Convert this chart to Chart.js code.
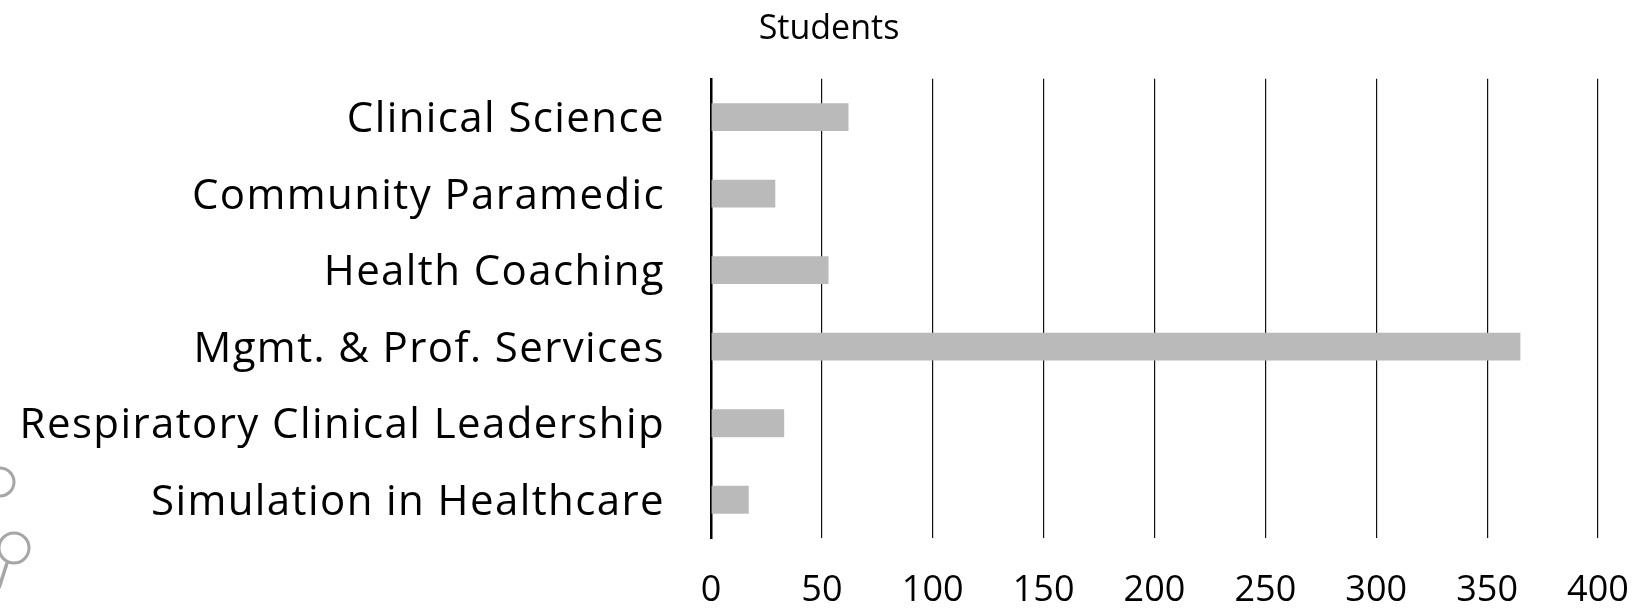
<!DOCTYPE html>
<html>
<head>
<meta charset="utf-8">
<script src="https://cdn.jsdelivr.net/npm/chart.js@4"></script>
<style>
html,body{margin:0;padding:0;background:#fff;}
#wrap{width:1639px;height:608px;position:relative;}
</style>
</head>
<body>
<div id="wrap"><canvas id="c" width="1639" height="608"></canvas></div>
<script>
const categories = ["Clinical Science","Community Paramedic","Health Coaching","Mgmt. & Prof. Services","Respiratory Clinical Leadership","Simulation in Healthcare"];
const students = [62, 29, 53, 365, 33, 17];
const tickValues = [0,50,100,150,200,250,300,350,400];
const seriesName = "Students";

const FONT = "'Open Sans', 'Noto Sans', sans-serif";

const decor = {
  id:'decor',
  beforeDraw(chart){
    const ctx = chart.ctx;
    ctx.save();
    ctx.fillStyle='#fff';
    ctx.fillRect(0,0,chart.width,chart.height);
    ctx.strokeStyle='#a6a6a6';
    ctx.lineWidth=3;
    ctx.beginPath(); ctx.arc(0,482,14,0,Math.PI*2); ctx.stroke();
    ctx.beginPath(); ctx.arc(14,548,15,0,Math.PI*2); ctx.stroke();
    ctx.lineWidth=3.5;
    ctx.beginPath(); ctx.moveTo(7,563); ctx.lineTo(-1,588); ctx.stroke();
    ctx.restore();
  }
};

const titleShift = {
  id:'titleShift',
  afterLayout(chart){
    const t = chart.titleBlock;
    if (t) { t.left = 60; t.right = 1598; t.width = t.right - t.left; }
  }
};

const ySpacing = {
  id:'ySpacing',
  beforeDraw(chart){
    const y = chart.scales.y;
    if (!y || y._spaced) return;
    y._spaced = true;
    const orig = y.drawLabels;
    y.drawLabels = function(area){
      const ctx = this.ctx;
      const had = 'letterSpacing' in ctx;
      const prev = had ? ctx.letterSpacing : null;
      if (had) ctx.letterSpacing = '1.4px';
      orig.call(this, area);
      if (had) ctx.letterSpacing = prev;
    };
  }
};

new Chart(document.getElementById('c'), {
  type:'bar',
  data:{
    labels: categories,
    datasets:[{
      label: seriesName,
      data: students,
      backgroundColor:'#bababa',
      borderWidth:0,
      barPercentage:0.52,
      categoryPercentage:0.7
    }]
  },
  options:{
    indexAxis:'y',
    responsive:false,
    animation:false,
    layout:{padding:{left:0,right:41,top:0,bottom:0}},
    plugins:{
      legend:{display:false},
      tooltip:{enabled:false},
      title:{
        display:true,
        text: seriesName,
        color:'#000',
        font:{family:FONT,size:34,weight:'normal'},
        padding:{top:9,bottom:29}
      }
    },
    scales:{
      x:{
        min:0,max:400,
        afterBuildTicks(s){ s.ticks = tickValues.map(v=>({value:v})); },
        grid:{color:'#111',lineWidth:1.2,drawTicks:false},
        border:{display:false},
        ticks:{color:'#000',font:{family:FONT,size:36},padding:31,maxRotation:0,autoSkip:false},
        afterFit(s){ s.height = 70; s.paddingLeft = 0; s.paddingRight = 0; }
      },
      y:{
        grid:{display:false,drawTicks:false},
        border:{display:true,color:'#000',width:2.5},
        ticks:{color:'#000',font:{family:FONT,size:42},padding:46,labelOffset:3,autoSkip:false},
        afterFit(s){ s.width = 711; s.paddingTop = 0; s.paddingBottom = 0; }
      }
    }
  },
  plugins:[decor, titleShift, ySpacing]
});
</script>
</body>
</html>
